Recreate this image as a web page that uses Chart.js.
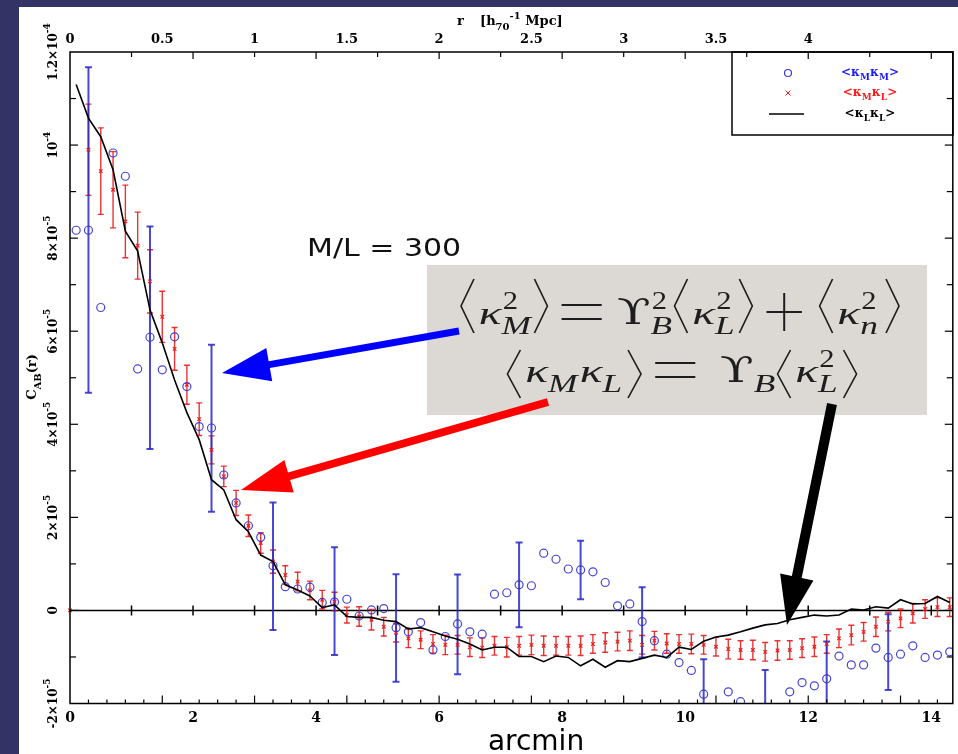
<!DOCTYPE html>
<html><head><meta charset="utf-8">
<script src="https://cdn.jsdelivr.net/npm/chart.js@4/dist/chart.umd.min.js"></script>
<style>html,body{margin:0;padding:0;background:#333366;overflow:hidden}canvas{display:block}</style>
</head><body>
<canvas id="c" width="958" height="754"></canvas>
<script>
// x positions (arcmin) of the bins
const bins = [0.1,0.3,0.5,0.7,0.9,1.1,1.3,1.5,1.7,1.9,
  2.1,2.3,2.5,2.7,2.9,3.1,3.3,3.5,3.7,3.9,
  4.1,4.3,4.5,4.7,4.9,5.1,5.3,5.5,5.7,5.9,
  6.1,6.3,6.5,6.7,6.9,7.1,7.3,7.5,7.7,7.9,
  8.1,8.3,8.5,8.7,8.9,9.1,9.3,9.5,9.7,9.9,
  10.1,10.3,10.5,10.7,10.9,11.1,11.3,11.5,11.7,11.9,
  12.1,12.3,12.5,12.7,12.9,13.1,13.3,13.5,13.7,13.9,
  14.1,14.3];
// values in units of 1e-5
const kMM = [8.17,8.17,6.51,9.83,9.33,5.19,5.87,5.17,5.88,4.81,
  3.95,3.92,2.91,2.31,1.82,1.57,0.96,0.51,0.46,0.50,
  0.17,0.18,0.24,-0.12,0.01,0.04,-0.37,-0.46,-0.26,-0.85,
  -0.56,-0.29,-0.46,-0.51,0.35,0.38,0.55,0.53,1.23,1.10,
  0.89,0.87,0.83,0.60,0.10,0.14,-0.24,-0.65,-0.94,-1.12,
  -1.29,-1.80,-2.2,-1.75,-1.96,-2.2,-2.3,-2.2,-1.75,-1.55,
  -1.62,-1.47,-0.98,-1.17,-1.17,-0.81,-1.01,-0.94,-0.76,-1.01,
  -0.96,-0.89];
const kMMErrX  = [0.3,1.3,2.3,3.3,4.3,5.3,6.3,7.3,8.3,9.3,10.3,11.3,12.3,13.3];
const kMMErrLo = [4.68,3.47,2.12,-0.42,-0.96,-1.53,-1.37,-0.36,0.24,-1.01,-2.5,-2.5,-2.3,-1.71];
const kMMErrHi = [11.67,8.25,5.71,2.32,1.36,0.78,0.77,1.46,1.50,0.50,-1.05,-1.28,-0.67,-0.08];
const kML = [null,9.90,9.44,9.04,8.36,7.84,7.07,6.31,5.62,4.85,
  4.11,3.45,2.88,2.31,1.82,1.45,1.05,0.76,0.62,0.43,
  0.23,0.19,-0.10,-0.13,-0.20,-0.35,-0.48,-0.60,-0.63,-0.72,
  -0.74,-0.74,-0.79,-0.80,-0.76,-0.79,-0.76,-0.74,-0.76,-0.76,
  -0.76,-0.76,-0.72,-0.69,-0.67,-0.65,-0.74,-0.65,-0.71,-0.72,
  -0.72,-0.74,-0.78,-0.83,-0.85,-0.85,-0.89,-0.86,-0.85,-0.81,
  -0.78,-0.72,-0.60,-0.53,-0.46,-0.35,-0.24,-0.17,-0.06,0.03,
  0.07,0.07];
const kMLErr = [null,0.98,0.93,0.82,0.78,0.72,0.68,0.55,0.46,0.42,
  0.35,0.30,0.22,0.27,0.23,0.22,0.25,0.20,0.20,0.20,
  0.20,0.20,0.17,0.21,0.22,0.20,0.20,0.20,0.19,0.20,
  0.21,0.20,0.20,0.21,0.20,0.21,0.20,0.21,0.21,0.20,
  0.20,0.21,0.20,0.21,0.20,0.21,0.20,0.20,0.21,0.20,
  0.21,0.20,0.20,0.21,0.20,0.21,0.20,0.21,0.20,0.20,
  0.21,0.20,0.20,0.21,0.20,0.21,0.20,0.20,0.21,0.20,
  0.20,0.20];
const kMLExtraX = [0], kMLExtraY = [0];
const kLL = [11.30,10.58,10.18,9.47,8.15,7.72,6.46,5.75,4.95,4.25,
  3.67,2.81,2.59,1.95,1.69,1.19,1.05,0.55,0.44,0.31,
  0.06,0.12,-0.13,-0.15,-0.15,-0.21,-0.24,-0.40,-0.37,-0.46,
  -0.55,-0.62,-0.72,-0.85,-0.79,-0.79,-0.99,-0.99,-1.10,-0.98,
  -1.01,-1.19,-1.05,-1.22,-1.08,-1.10,-1.03,-0.96,-1.01,-0.79,
  -0.84,-0.66,-0.57,-0.53,-0.46,-0.38,-0.31,-0.28,-0.20,-0.15,
  -0.10,-0.12,-0.10,0.03,0.01,0.08,0.05,0.23,0.14,0.15,
  0.30,0.17];
// tick labels
const xTickValues = [0,2,4,6,8,10,12,14];
const xTickLabels = ['0','2','4','6','8','10','12','14'];
const topTickValues = [0,0.5,1,1.5,2,2.5,3,3.5,4];   // Mpc
const topTickLabels = ['0','0.5','1','1.5','2','2.5','3','3.5','4'];
const ARCMIN_PER_MPC = 3.0;
const yTickValues = [-2,0,2,4,6,8,10,12];
const yTickMant = ['-2\u00d710','0','2\u00d710','4\u00d710','6\u00d710','8\u00d710','10','1.2\u00d710'];
const yTickExp  = ['-5','','-5','-5','-5','-5','-4','-4'];

function line(c,x1,y1,x2,y2){c.beginPath();c.moveTo(x1,y1);c.lineTo(x2,y2);c.stroke();}
function txt(c,s,x,y,font,color,align){c.font=font;c.fillStyle=color;c.textAlign=align||'left';c.textBaseline='alphabetic';c.fillText(s,x,y);}
function arrow(c,x1,y1,x2,y2,w,hl,hw,color){
  const dx=x2-x1, dy=y2-y1, L=Math.hypot(dx,dy), ux=dx/L, uy=dy/L, px=-uy, py=ux;
  const bx=x2-ux*hl, by=y2-uy*hl;
  c.fillStyle=color;
  c.beginPath();
  c.moveTo(x1+px*w/2,y1+py*w/2); c.lineTo(bx+px*w/2,by+py*w/2);
  c.lineTo(bx+px*hw,by+py*hw); c.lineTo(x2,y2); c.lineTo(bx-px*hw,by-py*hw);
  c.lineTo(bx-px*w/2,by-py*w/2); c.lineTo(x1-px*w/2,y1-py*w/2); c.closePath(); c.fill();
}
function richWidth(c,parts,size){let w=0;parts.forEach(p=>{c.font='bold '+(p.d?Math.round(size*0.75):size)+'px "DejaVu Serif"';w+=c.measureText(p.s).width;});return w;}
function richDraw(c,parts,x,y,size,color){parts.forEach(p=>{const sz=p.d?Math.round(size*0.75):size;c.font='bold '+sz+'px "DejaVu Serif"';c.fillStyle=color;c.textAlign='left';c.textBaseline='alphabetic';c.fillText(p.s,x,y+(p.d===1?size*0.35:p.d===-1?-size*0.45:0));x+=c.measureText(p.s).width;});}

const KF='italic 31px "Liberation Serif"', KS=1.3, UF='36px "DejaVu Serif"', US=1.15;
const SUPF='26px "Liberation Serif"', SUBF='italic 26px "Liberation Serif"', SUBS=1.15;
const EQ_STRETCH = 1.18;
function itemWidth(c,it){
  if(it.t==='L'||it.t==='R') return 13;
  if(it.t==='k'){c.font=KF;return c.measureText('\u03ba').width*KS;}
  if(it.t==='u'){c.font=UF;return c.measureText('\u03d2').width*US;}
  if(it.t==='eq') return 36;
  if(it.t==='plus') return 31;
  if(it.t==='sc'){let w=0;if(it.sup){c.font=SUPF;w=Math.max(w,c.measureText(it.sup).width+1);}if(it.sub){c.font=SUBF;w=Math.max(w,c.measureText(it.sub).width*SUBS);}return w;}
  return 0;
}
function mathLine(c,items,cx,base,top,bot){
  const col='#1e1e1e';
  let total=0; const ws=items.map(it=>{const w=itemWidth(c,it);total+=(it.g||0)+w;return w;});
  c.save(); c.translate(cx,0); c.scale(EQ_STRETCH,1); c.translate(-cx,0);
  let x=cx-total/2;
  c.strokeStyle=col; c.fillStyle=col; c.lineWidth=1.4;
  items.forEach((it,i)=>{
    x+=(it.g||0);
    const mid=(top+bot)/2;
    if(it.t==='L'){c.beginPath();c.moveTo(x+12,top);c.lineTo(x+1,mid);c.lineTo(x+12,bot);c.stroke();}
    else if(it.t==='R'){c.beginPath();c.moveTo(x+1,top);c.lineTo(x+12,mid);c.lineTo(x+1,bot);c.stroke();}
    else if(it.t==='k'){c.save();c.translate(x,base);c.scale(KS,1);txt(c,'\u03ba',0,0,KF,col);c.restore();}
    else if(it.t==='u'){c.save();c.translate(x,base);c.scale(US,1);txt(c,'\u03d2',0,0,UF,col);c.restore();}
    else if(it.t==='eq'){c.lineWidth=2;line(c,x,base-19,x+34,base-19);line(c,x,base-5,x+34,base-5);c.lineWidth=1.4;}
    else if(it.t==='plus'){c.lineWidth=2;line(c,x,base-12,x+30,base-12);c.lineWidth=1.7;line(c,x+15,base-31,x+15,base+7);c.lineWidth=1.4;}
    else if(it.t==='sc'){
      if(it.sup) txt(c,it.sup,x+1,base-15,SUPF,col);
      if(it.sub){c.save();c.translate(x,base+10);c.scale(SUBS,1);txt(c,it.sub,0,0,SUBF,col);c.restore();}
    }
    x+=ws[i];
  });
  c.restore();
}

const deco = {
  id:'deco',
  beforeDraw(chart){
    const c=chart.ctx; c.save();
    c.fillStyle='#333366'; c.fillRect(0,0,958,754);
    c.fillStyle='#ffffff'; c.fillRect(19,7,939,747);
    c.restore();
  },
  beforeDatasetsDraw(chart){
    const c=chart.ctx, xs=chart.scales.x, ys=chart.scales.y, a=chart.chartArea;
    c.save();
    c.beginPath(); c.rect(a.left-4,a.top,a.right-a.left+4,a.bottom-a.top); c.clip();
    const y0=ys.getPixelForValue(0);
    c.strokeStyle='#000'; c.lineWidth=1.5;
    line(c,a.left,y0,a.right,y0);
    for(let v=1;v<=14;v++){const x=xs.getPixelForValue(v);line(c,x,y0-5,x,y0+5);}
    c.strokeStyle='rgba(230,30,30,0.9)'; c.lineWidth=1.4;
    bins.forEach((b,i)=>{
      if(kML[i]==null) return;
      const x=xs.getPixelForValue(b), yl=ys.getPixelForValue(kML[i]-kMLErr[i]), yh=ys.getPixelForValue(kML[i]+kMLErr[i]);
      line(c,x,yl,x,yh); line(c,x-3,yl,x+3,yl); line(c,x-3,yh,x+3,yh);
    });
    c.strokeStyle='rgba(40,40,200,0.85)'; c.lineWidth=2;
    kMMErrX.forEach((b,i)=>{
      const x=xs.getPixelForValue(b), yl=ys.getPixelForValue(kMMErrLo[i]), yh=ys.getPixelForValue(kMMErrHi[i]);
      line(c,x,yl,x,yh); line(c,x-3.5,yl,x+3.5,yl); line(c,x-3.5,yh,x+3.5,yh);
    });
    c.restore();
  },
  afterDraw(chart){
    const c=chart.ctx, xs=chart.scales.x, ys=chart.scales.y, a=chart.chartArea;
    c.save();
    c.strokeStyle='#000'; c.lineWidth=1.5;
    c.strokeRect(a.left,a.top,a.right-a.left,a.bottom-a.top);
    c.lineWidth=1.2;
    for(let v=-1;v<12;v++){const y=ys.getPixelForValue(v);const l=(v%2===0)?8:6;line(c,a.left,y,a.left+l,y);line(c,a.right-l,y,a.right,y);}
    for(let v=1;v<=14;v++){const x=xs.getPixelForValue(v);line(c,x,a.top,x,a.top+(v%2===0?7:5));}
    for(let m=1;m<=47;m++){const x=xs.getPixelForValue(m*0.1*ARCMIN_PER_MPC);line(c,x,a.bottom,x,a.bottom-(m%5===0?8:4));}
    xTickValues.forEach((v,i)=>txt(c,xTickLabels[i],xs.getPixelForValue(v),722,'bold 14px "DejaVu Serif"','#000','center'));
    topTickValues.forEach((m,i)=>txt(c,topTickLabels[i],xs.getPixelForValue(m*ARCMIN_PER_MPC),43,'bold 13px "DejaVu Serif"','#000','center'));
    yTickValues.forEach((v,i)=>{
      const py=ys.getPixelForValue(v);
      c.save(); c.translate(57,py); c.rotate(-Math.PI/2);
      const f1='bold 12px "DejaVu Serif"', f2='bold 9px "DejaVu Serif"';
      c.font=f1; const w1=c.measureText(yTickMant[i]).width;
      c.font=f2; const w2=yTickExp[i]?c.measureText(yTickExp[i]).width:0;
      const x0=-(w1+w2)/2;
      txt(c,yTickMant[i],x0,0,f1,'#000');
      if(yTickExp[i]) txt(c,yTickExp[i],x0+w1,-7,f2,'#000');
      c.restore();
    });
    c.save(); c.translate(36,377); c.rotate(-Math.PI/2);
    const ytp=[{s:'C',d:0},{s:'AB',d:1},{s:'(r)',d:0}];
    const yw=richWidth(c,ytp,13); richDraw(c,ytp,-yw/2,0,13,'#000');
    c.restore();
    txt(c,'r',457,25,'bold 13px "DejaVu Serif"','#000');
    richDraw(c,[{s:'[h',d:0},{s:'70',d:1},{s:'-1',d:-1},{s:' Mpc]',d:0}],480,25,13,'#000');
    c.save(); c.font='28px "DejaVu Sans"'; c.fillStyle='#000'; c.textAlign='center'; c.fillText('arcmin',536,750); c.restore();
    c.save(); c.translate(307,256); c.scale(1.2,1); txt(c,'M/L = 300',0,0,'25px "DejaVu Sans"','#111'); c.restore();
    // legend
    c.strokeStyle='#000'; c.lineWidth=1.5; c.strokeRect(732,52,221,83);
    c.strokeStyle='#3a3ad0'; c.lineWidth=1.2; c.beginPath(); c.arc(788,73,3.5,0,Math.PI*2); c.stroke();
    c.strokeStyle='#e82020'; c.lineWidth=1; line(c,785.5,90.5,790.5,95.5); line(c,785.5,95.5,790.5,90.5);
    c.strokeStyle='#000'; c.lineWidth=1.6; line(c,769,114,804,114);
    const lg=[[['M','M'],'#1a1aff',76],[['M','L'],'#ff1a1a',96],[['L','L'],'#000',117]];
    lg.forEach(([s,col,y])=>{const p=[{s:'<\u03ba',d:0},{s:s[0],d:1},{s:'\u03ba',d:0},{s:s[1],d:1},{s:'>',d:0}];const w=richWidth(c,p,12);richDraw(c,p,870-w/2,y,12,col);});
    // equation box
    c.fillStyle='#dcd9d4'; c.fillRect(427,265,500,150);
    mathLine(c,[{t:'L'},{t:'k',g:3},{t:'sc',sup:'2',sub:'M'},{t:'R',g:2},{t:'eq',g:11},
      {t:'u',g:11},{t:'sc',sup:'2',sub:'B'},{t:'L',g:1},{t:'k',g:3},{t:'sc',sup:'2',sub:'L'},{t:'R',g:3},
      {t:'plus',g:11},{t:'L',g:13},{t:'k',g:3},{t:'sc',sup:'2',sub:'n'},{t:'R',g:6}],680,324,279,333);
    mathLine(c,[{t:'L'},{t:'k',g:3},{t:'sc',sub:'M'},{t:'k',g:2},{t:'sc',sub:'L'},{t:'R',g:4},{t:'eq',g:11},
      {t:'u',g:19},{t:'sc',sub:'B'},{t:'L',g:1},{t:'k',g:3},{t:'sc',sup:'2',sub:'L'},{t:'R',g:4}],682,382,350,398);
    arrow(c,459,331,222,373,7,48,17,'#0000ff');
    arrow(c,548,402,241,490,8,50,17,'#ff0000');
    arrow(c,832,404,787,625,10,49,17,'#000000');
    c.restore();
  }
};

new Chart(document.getElementById('c'),{
  type:'scatter',
  data:{datasets:[
    {type:'line',label:'<\u03baL\u03baL>',data:bins.map((x,i)=>({x,y:kLL[i]})),borderColor:'#000',borderWidth:1.6,pointRadius:0,tension:0,fill:false,clip:0},
    {label:'<\u03baM\u03baM>',data:bins.map((x,i)=>({x,y:kMM[i]})),pointStyle:'circle',pointRadius:4,borderColor:'rgba(50,50,210,0.9)',backgroundColor:'rgba(0,0,0,0)',borderWidth:1.2,clip:0},
    {label:'<\u03baM\u03baL>',data:kMLExtraX.map((x,i)=>({x,y:kMLExtraY[i]})).concat(bins.map((x,i)=>({x,y:kML[i]}))),pointStyle:'crossRot',pointRadius:2.5,borderColor:'#e82020',borderWidth:1.2,clip:{left:5,top:0,right:0,bottom:0}}
  ]},
  options:{
    responsive:false, animation:false, devicePixelRatio:1, events:[],
    layout:{padding:{left:70,top:52,right:3,bottom:50.5}},
    plugins:{legend:{display:false},tooltip:{enabled:false}},
    scales:{
      x:{type:'linear',min:0,max:14.35,display:false},
      y:{type:'linear',min:-2,max:12,display:false}
    }
  },
  plugins:[deco]
});
</script>
</body></html>
